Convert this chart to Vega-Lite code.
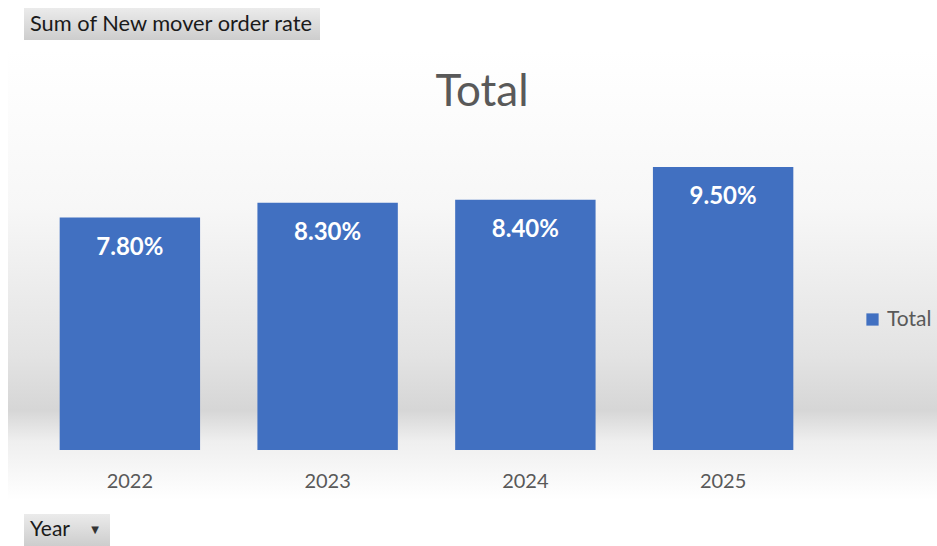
{
  "$schema": "https://vega.github.io/schema/vega-lite/v6.json",
  "autosize": "none",
  "width": 791,
  "height": 298,
  "padding": {"left": 31, "top": 152, "right": 115, "bottom": 96},
  "background": "#ffffff",
  "config": {
    "view": {"stroke": null},
    "font": "Lato, sans-serif"
  },
  "data": {
    "values": [
      {"year": "2022", "rate": 0.078},
      {"year": "2023", "rate": 0.083},
      {"year": "2024", "rate": 0.084},
      {"year": "2025", "rate": 0.095}
    ]
  },
  "layer": [
    {
      "data": {"values": [{}]},
      "mark": {
        "type": "rect",
        "fill": {
          "gradient": "linear", "x1": 0, "y1": 0, "x2": 0, "y2": 1,
          "stops": [
            {"offset": 0, "color": "#ffffff"},
            {"offset": 0.35, "color": "#f7f7f7"},
            {"offset": 0.68, "color": "#e3e3e3"},
            {"offset": 0.8, "color": "#d6d6d6"},
            {"offset": 0.87, "color": "#efefef"},
            {"offset": 1, "color": "#ffffff"}
          ]
        }
      },
      "encoding": {
        "x": {"value": -23},
        "x2": {"value": 906},
        "y": {"value": -102},
        "y2": {"value": 348}
      }
    },
    {
      "data": {"values": [{}]},
      "mark": {
        "type": "rect",
        "fill": {
          "gradient": "linear", "x1": 0, "y1": 0, "x2": 0, "y2": 1,
          "stops": [
            {"offset": 0, "color": "#ebebeb"},
            {"offset": 1, "color": "#cdcdcd"}
          ]
        }
      },
      "encoding": {
        "x": {"value": -7},
        "x2": {"value": 289},
        "y": {"value": -144},
        "y2": {"value": -112}
      }
    },
    {
      "data": {"values": [{}]},
      "mark": {
        "type": "rect",
        "fill": {
          "gradient": "linear", "x1": 0, "y1": 0, "x2": 0, "y2": 1,
          "stops": [
            {"offset": 0, "color": "#ebebeb"},
            {"offset": 1, "color": "#cdcdcd"}
          ]
        }
      },
      "encoding": {
        "x": {"value": -7},
        "x2": {"value": 79},
        "y": {"value": 362},
        "y2": {"value": 394}
      }
    },
    {
      "data": {"values": [{"t": "Total"}]},
      "mark": {"type": "text", "align": "center", "baseline": "middle", "fontSize": 44, "color": "#595959"},
      "encoding": {
        "text": {"field": "t"},
        "x": {"value": 451},
        "y": {"value": -59}
      }
    },
    {
      "data": {"values": [{"t": "Sum of New mover order rate"}]},
      "mark": {"type": "text", "align": "left", "baseline": "middle", "fontSize": 21.8, "color": "#1a1a1a"},
      "encoding": {
        "text": {"field": "t"},
        "x": {"value": -1},
        "y": {"value": -128}
      }
    },
    {
      "data": {"values": [{"t": "Year"}]},
      "mark": {"type": "text", "align": "left", "baseline": "middle", "fontSize": 21, "color": "#1a1a1a"},
      "encoding": {
        "text": {"field": "t"},
        "x": {"value": -1},
        "y": {"value": 378}
      }
    },
    {
      "data": {"values": [{"t": "▼"}]},
      "mark": {"type": "text", "align": "center", "baseline": "middle", "fontSize": 10, "color": "#333333", "font": "DejaVu Sans"},
      "encoding": {
        "text": {"field": "t"},
        "x": {"value": 64},
        "y": {"value": 378}
      }
    },
    {
      "mark": {"type": "bar"},
      "encoding": {
        "x": {
          "field": "year",
          "type": "nominal",
          "sort": null,
          "scale": {"paddingInner": 0.29, "paddingOuter": 0.145},
          "axis": {
            "title": null,
            "domain": false,
            "ticks": false,
            "labelAngle": 0,
            "labelFontSize": 20,
            "labelColor": "#595959",
            "labelPadding": 21,
            "zindex": 1
          }
        },
        "y": {
          "field": "rate",
          "type": "quantitative",
          "scale": {"domain": [0, 0.1]},
          "axis": null
        },
        "color": {
          "datum": "Total",
          "scale": {"range": ["#4170c1"]},
          "legend": {
            "title": null,
            "orient": "none",
            "legendX": 831,
            "legendY": 157,
            "symbolType": "square",
            "symbolSize": 150,
            "symbolStrokeWidth": 0,
            "labelFontSize": 21,
            "labelColor": "#595959",
            "labelOffset": 4,
            "zindex": 1
          }
        }
      }
    },
    {
      "mark": {"type": "text", "baseline": "middle", "dy": 30, "fontSize": 24, "fontWeight": "bold", "color": "#ffffff"},
      "encoding": {
        "x": {"field": "year", "type": "nominal", "sort": null},
        "y": {"field": "rate", "type": "quantitative"},
        "text": {"field": "rate", "type": "quantitative", "format": ".2%"}
      }
    }
  ]
}
